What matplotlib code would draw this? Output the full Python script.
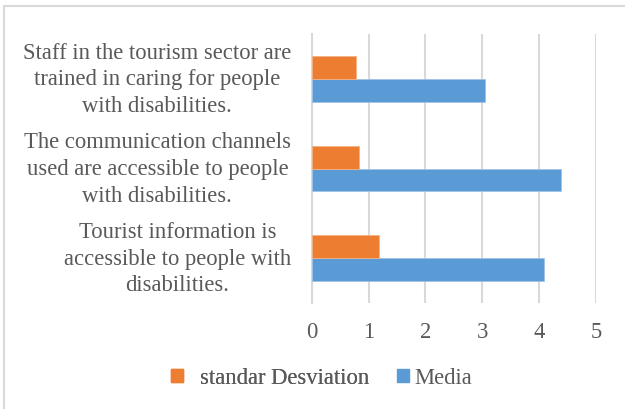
import matplotlib
matplotlib.use("Agg")
import matplotlib.pyplot as plt
from matplotlib.patches import Rectangle, Patch
import numpy as np

# questionnaire items, bottom to top
categories = [
    "Tourist information is\naccessible to people with\ndisabilities.",
    "The communication channels\nused are accessible to people\nwith disabilities.",
    "Staff in the tourism sector are\ntrained in caring for people\nwith disabilities.",
]
media = [4.08, 4.39, 3.05]
std_dev = [1.18, 0.83, 0.78]
xticks = [0, 1, 2, 3, 4, 5]

BLUE = "#5B9BD5"
ORANGE = "#ED7D31"
TEXT = "#595959"
GRID = "#D9D9D9"

plt.rcParams["font.family"] = ["Liberation Serif", "DejaVu Serif"]

fig = plt.figure(figsize=(6.25, 4.1), dpi=100)
ax = fig.add_axes([0.4987, 0.2585, 0.4549, 0.6561])

y = np.arange(len(categories))
h = 0.256
ax.barh(y - h / 2, media, height=h, color=BLUE, edgecolor="#9DC3E6", linewidth=0.6,
        label="Media", zorder=3)
ax.barh(y + h / 2, std_dev, height=h, color=ORANGE, edgecolor="#F4B183", linewidth=0.6,
        label="standar Desviation", zorder=3)

ax.set_xlim(0, 5)
ax.set_ylim(-0.5, 2.5)
ax.set_xticks(xticks)
ax.set_xticklabels([str(t) for t in xticks])
ax.set_yticks(y)
ax.set_yticklabels(categories, ha="right", va="center", multialignment="center",
                   linespacing=1.35)

ax.tick_params(axis="both", length=0, labelsize=16.3, colors=TEXT)
ax.tick_params(axis="x", pad=13)
ax.tick_params(axis="y", pad=15)
ax.grid(axis="x", color=GRID, linewidth=1.5, zorder=0)
for side in ("top", "right", "bottom"):
    ax.spines[side].set_visible(False)
ax.spines["left"].set_color(GRID)
ax.spines["left"].set_linewidth(1.5)

# two legend entries, placed separately
leg_kw = dict(loc="center left", frameon=False, fontsize=16.3, labelcolor=TEXT,
              handlelength=0.54, handleheight=0.54, borderpad=0, borderaxespad=0)
leg1 = fig.legend(handles=[Patch(color=ORANGE, label="standar Desviation")],
                  bbox_to_anchor=(171 / 625, 1 - 379 / 410), handletextpad=0.75, **leg_kw)
fig.add_artist(leg1)
fig.legend(handles=[Patch(color=BLUE, label="Media")],
           bbox_to_anchor=(397 / 625, 1 - 379 / 410), handletextpad=0.25, **leg_kw)

# outer chart frame
fig.patches.append(Rectangle((4 / 625, -0.05), 1.1, 1 - 7 / 410 + 0.05,
                             transform=fig.transFigure, fill=False,
                             edgecolor=GRID, linewidth=1.5))

fig.savefig("out.png", dpi=100)
